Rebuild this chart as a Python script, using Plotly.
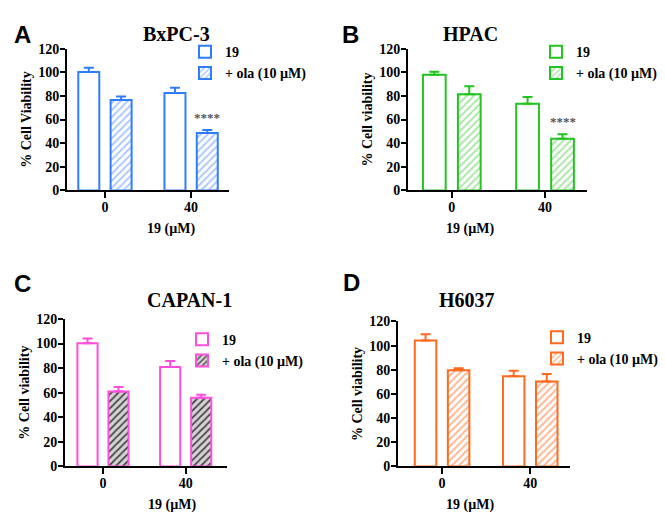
import plotly.graph_objects as go

categories = ["0", "40"]
x_title = "19 (µM)"
series_names = ["19", "+ ola (10 µM)"]

panel_letters = ["A", "B", "C", "D"]
panel_titles = ["BxPC-3", "HPAC", "CAPAN-1", "H6037"]
y_titles = ["% Cell Viability", "% Cell viability", "% Cell viability", "% Cell viability"]

# values per panel: [compound 19 alone, + olaparib]
a_plain = [100.3, 82.4]
a_plain_err = [3.5, 4.4]
a_ola = [76.6, 48.6]
a_ola_err = [2.8, 2.5]

b_plain = [98.0, 73.4]
b_plain_err = [2.5, 5.7]
b_ola = [81.3, 43.7]
b_ola_err = [6.9, 3.8]

c_plain = [100.3, 80.8]
c_plain_err = [3.7, 5.0]
c_ola = [60.9, 55.9]
c_ola_err = [3.7, 2.4]

d_plain = [104.2, 74.6]
d_plain_err = [5.3, 4.6]
d_ola = [79.7, 70.3]
d_ola_err = [1.6, 6.2]

stars_text = ["", "****"]

SERIF = "Liberation Serif"
BOLD = dict(family=SERIF, color="black", weight="bold")

panels = [
    dict(plain=a_plain, plain_err=a_plain_err, ola=a_ola, ola_err=a_ola_err, stars=True,
         color="#2f7dff", fg="#a8c6ff", bg="#ffffff",
         xd=[0.1008, 0.3444], yd=[0.639, 0.918], xr=[-0.44, 1.44]),
    dict(plain=b_plain, plain_err=b_plain_err, ola=b_ola, ola_err=b_ola_err, stars=True,
         color="#22c41f", fg="#a6e6a3", bg="#ffffff",
         xd=[0.6135, 0.8827], yd=[0.639, 0.918], xr=[-0.47, 1.45]),
    dict(plain=c_plain, plain_err=c_plain_err, ola=c_ola, ola_err=c_ola_err, stars=False,
         color="#ff4ddc", fg="#4a4a4a", bg="#d4d4d4",
         xd=[0.0977, 0.3414], yd=[0.0956, 0.386], xr=[-0.46, 1.5]),
    dict(plain=d_plain, plain_err=d_plain_err, ola=d_ola, ola_err=d_ola_err, stars=False,
         color="#ff6a1f", fg="#ffb48c", bg="#ffffff",
         xd=[0.5985, 0.857], yd=[0.0956, 0.381], xr=[-0.5, 1.45]),
]

legend_pos = [(185, 30), (536, 30), (182, 326), (537, 324)]
title_pos = [(141, 14), (500, 14), (145, 302), (497, 302)]
letter_pos = [(12, 12), (350, 12), (12, 285), (351, 284)]
xtitle_pos = [(145, 229), (496, 229), (146, 513), (496, 513)]

W, H = 665, 523
fig = go.Figure()
annotations = []
layout_axes = {}

for i, p in enumerate(panels):
    n = "" if i == 0 else str(i + 1)
    xa, ya = "x" + n, "y" + n
    leg = "legend" + n
    fig.add_trace(go.Bar(
        x=categories, y=p["plain"], name=series_names[0], xaxis=xa, yaxis=ya, legend=leg,
        marker=dict(color="white", line=dict(color=p["color"], width=2)),
        error_y=dict(type="data", symmetric=False, array=p["plain_err"], arrayminus=[0, 0],
                     color=p["color"], thickness=2, width=5),
    ))
    fig.add_trace(go.Bar(
        x=categories, y=p["ola"], name=series_names[1], xaxis=xa, yaxis=ya, legend=leg,
        marker=dict(color=p["bg"], line=dict(color=p["color"], width=2),
                    pattern=dict(shape="/", fgcolor=p["fg"], bgcolor=p["bg"], size=5,
                                 solidity=0.35, fillmode="replace")),
        error_y=dict(type="data", symmetric=False, array=p["ola_err"], arrayminus=[0, 0],
                     color=p["color"], thickness=2, width=5),
    ))
    layout_axes["xaxis" + n] = dict(
        domain=p["xd"], anchor=ya, type="category", range=p["xr"],
        showline=True, linecolor="black", linewidth=2, ticks="outside", ticklen=6,
        tickwidth=2, tickcolor="black", showgrid=False, zeroline=False,
        ticklabelstandoff=-3,
        tickfont=dict(size=14, **BOLD),
    )
    layout_axes["yaxis" + n] = dict(
        domain=p["yd"], anchor=xa, range=[0, 120], tickvals=[0, 20, 40, 60, 80, 100, 120],
        showline=True, linecolor="black", linewidth=2, ticks="outside", ticklen=5,
        tickwidth=2, tickcolor="black", showgrid=False, zeroline=False,
        ticklabelstandoff=-2,
        title=dict(text=y_titles[i], standoff=3, font=dict(size=14, **BOLD)),
        tickfont=dict(size=14, **BOLD),
    )
    lx, ly = legend_pos[i]
    layout_axes[leg] = dict(
        x=lx / W, y=1 - ly / H, xanchor="left", yanchor="top",
        bgcolor="rgba(0,0,0,0)", font=dict(size=14, **BOLD),
        traceorder="normal",
    )
    if p["stars"]:
        for k, txt in enumerate(stars_text):
            if txt:
                annotations.append(dict(
                    x=k + 0.19, y=p["ola"][k] + p["ola_err"][k], xref=xa, yref=ya,
                    text=txt, showarrow=False, yanchor="bottom", yshift=3,
                    font=dict(size=13, color="#555555", family=SERIF),
                ))
    xx, xy = xtitle_pos[i]
    annotations.append(dict(x=xx / W, y=1 - xy / H, xref="paper", yref="paper",
                            text=x_title, showarrow=False, yanchor="middle",
                            font=dict(size=14, **BOLD)))
    tx, ty = title_pos[i]
    annotations.append(dict(x=tx / W, y=1 - ty / H, xref="paper", yref="paper",
                            text=panel_titles[i], showarrow=False,
                            font=dict(size=20, **BOLD)))
    px_, py_ = letter_pos[i]
    annotations.append(dict(x=px_ / W, y=1 - py_ / H, xref="paper", yref="paper",
                            text=panel_letters[i], showarrow=False,
                            font=dict(size=24, color="black", family="Liberation Sans", weight="bold")))

fig.update_layout(
    width=W, height=H, margin=dict(l=0, r=0, t=0, b=0),
    paper_bgcolor="white", plot_bgcolor="white",
    font=dict(size=14, **BOLD),
    barmode="group", bargap=0.25, bargroupgap=0.35,
    annotations=annotations,
    **layout_axes,
)

fig.write_html("out.html")
